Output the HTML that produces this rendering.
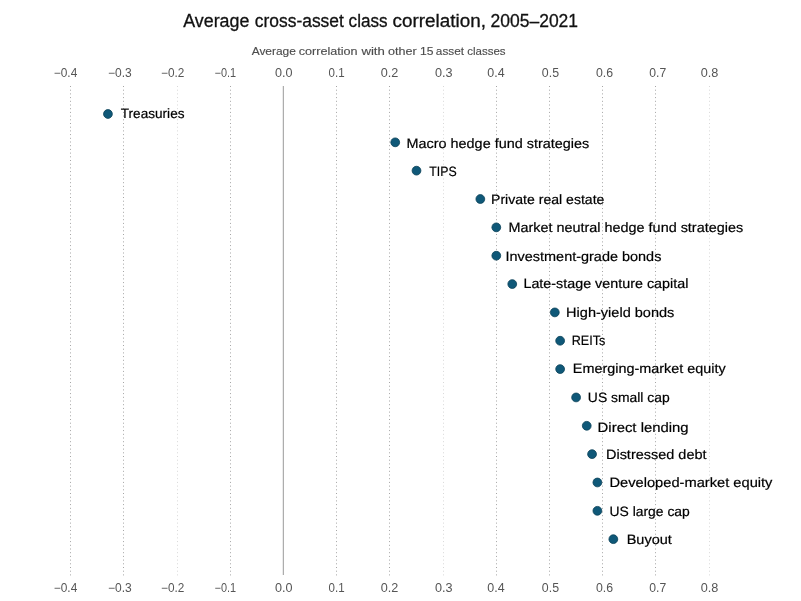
<!DOCTYPE html>
<html><head><meta charset="utf-8"><title>Average cross-asset class correlation, 2005–2021</title>
<style>
html,body{margin:0;padding:0;background:#fff;}
body{width:801px;height:601px;overflow:hidden;}
svg{display:block;will-change:transform;}
text{font-family:"Liberation Sans",Arial,sans-serif;}
.l{text-rendering:geometricPrecision;}
.t{font-size:18px;fill:#111;stroke:#111;stroke-width:0.3px;}
.s{font-size:11.6px;fill:#4d4d4d;stroke:#4d4d4d;stroke-width:0.15px;}
.k{font-size:12px;fill:#555;}
.l{font-size:13.5px;fill:#000;stroke:#000;stroke-width:0.2px;}
</style></head><body>
<svg width="801" height="601" viewBox="0 0 801 601">

<text class="t" x="183.26" y="26.7" textLength="66.14" lengthAdjust="spacingAndGlyphs">Average</text>
<text class="t" x="254.79" y="26.7" textLength="89.08" lengthAdjust="spacingAndGlyphs">cross-asset</text>
<text class="t" x="348.62" y="26.7" textLength="38.98" lengthAdjust="spacingAndGlyphs">class</text>
<text class="t" x="392.61" y="26.7" textLength="93.33" lengthAdjust="spacingAndGlyphs">correlation,</text>
<text class="t" x="490.53" y="26.7" textLength="87.58" lengthAdjust="spacingAndGlyphs">2005–2021</text>
<text class="s" x="251.65" y="54.8" textLength="44.25" lengthAdjust="spacingAndGlyphs">Average</text>
<text class="s" x="298.82" y="54.8" textLength="58.83" lengthAdjust="spacingAndGlyphs">correlation</text>
<text class="s" x="361.44" y="54.8" textLength="23.43" lengthAdjust="spacingAndGlyphs">with</text>
<text class="s" x="388.01" y="54.8" textLength="28.66" lengthAdjust="spacingAndGlyphs">other</text>
<text class="s" x="420.00" y="54.8" textLength="13.46" lengthAdjust="spacingAndGlyphs">15</text>
<text class="s" x="435.86" y="54.8" textLength="28.18" lengthAdjust="spacingAndGlyphs">asset</text>
<text class="s" x="467.22" y="54.8" textLength="38.37" lengthAdjust="spacingAndGlyphs">classes</text>
<line x1="70.5" y1="86" x2="70.5" y2="576" stroke="#a5a5a5" stroke-width="1" stroke-dasharray="1 2.7"/>
<line x1="123.5" y1="86" x2="123.5" y2="576" stroke="#a5a5a5" stroke-width="1" stroke-dasharray="1 2.7"/>
<line x1="177.5" y1="86" x2="177.5" y2="576" stroke="#d8d8d8" stroke-width="1" stroke-dasharray="1 2.7"/>
<line x1="230.5" y1="86" x2="230.5" y2="576" stroke="#a5a5a5" stroke-width="1" stroke-dasharray="1 2.7"/>
<rect x="282.8" y="86" width="1" height="489" fill="#999"/>
<line x1="336.5" y1="86" x2="336.5" y2="576" stroke="#a5a5a5" stroke-width="1" stroke-dasharray="1 2.7"/>
<line x1="389.5" y1="86" x2="389.5" y2="576" stroke="#a5a5a5" stroke-width="1" stroke-dasharray="1 2.7"/>
<line x1="443.5" y1="86" x2="443.5" y2="576" stroke="#d8d8d8" stroke-width="1" stroke-dasharray="1 2.7"/>
<line x1="496.5" y1="86" x2="496.5" y2="576" stroke="#a5a5a5" stroke-width="1" stroke-dasharray="1 2.7"/>
<line x1="549.5" y1="86" x2="549.5" y2="576" stroke="#a5a5a5" stroke-width="1" stroke-dasharray="1 2.7"/>
<line x1="602.5" y1="86" x2="602.5" y2="576" stroke="#a5a5a5" stroke-width="1" stroke-dasharray="1 2.7"/>
<line x1="655.5" y1="86" x2="655.5" y2="576" stroke="#a5a5a5" stroke-width="1" stroke-dasharray="1 2.7"/>
<line x1="709.5" y1="86" x2="709.5" y2="576" stroke="#d8d8d8" stroke-width="1" stroke-dasharray="1 2.7"/>
<text class="k" x="53.85" y="76.8" textLength="23.44" lengthAdjust="spacingAndGlyphs">−0.4</text>
<text class="k" x="53.85" y="591.8" textLength="23.44" lengthAdjust="spacingAndGlyphs">−0.4</text>
<text class="k" x="108.05" y="76.8" textLength="23.7" lengthAdjust="spacingAndGlyphs">−0.3</text>
<text class="k" x="108.05" y="591.8" textLength="23.7" lengthAdjust="spacingAndGlyphs">−0.3</text>
<text class="k" x="161.07" y="76.8" textLength="23.27" lengthAdjust="spacingAndGlyphs">−0.2</text>
<text class="k" x="161.07" y="591.8" textLength="23.27" lengthAdjust="spacingAndGlyphs">−0.2</text>
<text class="k" x="214.54" y="76.8" textLength="21.51" lengthAdjust="spacingAndGlyphs">−0.1</text>
<text class="k" x="214.54" y="591.8" textLength="21.51" lengthAdjust="spacingAndGlyphs">−0.1</text>
<text class="k" x="275.04" y="76.8" textLength="17.54" lengthAdjust="spacingAndGlyphs">0.0</text>
<text class="k" x="275.04" y="591.8" textLength="17.54" lengthAdjust="spacingAndGlyphs">0.0</text>
<text class="k" x="328.57" y="76.8" textLength="16.04" lengthAdjust="spacingAndGlyphs">0.1</text>
<text class="k" x="328.57" y="591.8" textLength="16.04" lengthAdjust="spacingAndGlyphs">0.1</text>
<text class="k" x="380.7" y="76.8" textLength="17.56" lengthAdjust="spacingAndGlyphs">0.2</text>
<text class="k" x="380.7" y="591.8" textLength="17.56" lengthAdjust="spacingAndGlyphs">0.2</text>
<text class="k" x="435.03" y="76.8" textLength="17.6" lengthAdjust="spacingAndGlyphs">0.3</text>
<text class="k" x="435.03" y="591.8" textLength="17.6" lengthAdjust="spacingAndGlyphs">0.3</text>
<text class="k" x="487.28" y="76.8" textLength="17.33" lengthAdjust="spacingAndGlyphs">0.4</text>
<text class="k" x="487.28" y="591.8" textLength="17.33" lengthAdjust="spacingAndGlyphs">0.4</text>
<text class="k" x="541.85" y="76.8" textLength="17.17" lengthAdjust="spacingAndGlyphs">0.5</text>
<text class="k" x="541.85" y="591.8" textLength="17.17" lengthAdjust="spacingAndGlyphs">0.5</text>
<text class="k" x="595.92" y="76.8" textLength="17.12" lengthAdjust="spacingAndGlyphs">0.6</text>
<text class="k" x="595.92" y="591.8" textLength="17.12" lengthAdjust="spacingAndGlyphs">0.6</text>
<text class="k" x="649.31" y="76.8" textLength="16.92" lengthAdjust="spacingAndGlyphs">0.7</text>
<text class="k" x="649.31" y="591.8" textLength="16.92" lengthAdjust="spacingAndGlyphs">0.7</text>
<text class="k" x="700.7" y="76.8" textLength="17.62" lengthAdjust="spacingAndGlyphs">0.8</text>
<text class="k" x="700.7" y="591.8" textLength="17.62" lengthAdjust="spacingAndGlyphs">0.8</text>
<circle cx="107.94" cy="113.98" r="4.4" fill="#0f5878" stroke="#0b4158" stroke-width="0.8"/>
<text class="l" x="120.81" y="117.80" textLength="63.71" lengthAdjust="spacingAndGlyphs">Treasuries</text>
<circle cx="395.22" cy="142.33" r="4.4" fill="#0f5878" stroke="#0b4158" stroke-width="0.8"/>
<text class="l" x="406.53" y="147.90" textLength="182.72" lengthAdjust="spacingAndGlyphs">Macro hedge fund strategies</text>
<circle cx="416.50" cy="170.67" r="4.4" fill="#0f5878" stroke="#0b4158" stroke-width="0.8"/>
<text class="l" x="429.25" y="175.90" textLength="27.36" lengthAdjust="spacingAndGlyphs">TIPS</text>
<circle cx="480.34" cy="199.02" r="4.4" fill="#0f5878" stroke="#0b4158" stroke-width="0.8"/>
<text class="l" x="491.04" y="203.90" textLength="113.41" lengthAdjust="spacingAndGlyphs">Private real estate</text>
<circle cx="496.30" cy="227.36" r="4.4" fill="#0f5878" stroke="#0b4158" stroke-width="0.8"/>
<text class="l" x="508.41" y="231.80" textLength="234.75" lengthAdjust="spacingAndGlyphs">Market neutral hedge fund strategies</text>
<circle cx="496.30" cy="255.71" r="4.4" fill="#0f5878" stroke="#0b4158" stroke-width="0.8"/>
<text class="l" x="505.50" y="260.90" textLength="155.87" lengthAdjust="spacingAndGlyphs">Investment-grade bonds</text>
<circle cx="512.26" cy="284.05" r="4.4" fill="#0f5878" stroke="#0b4158" stroke-width="0.8"/>
<text class="l" x="523.41" y="287.80" textLength="164.95" lengthAdjust="spacingAndGlyphs">Late-stage venture capital</text>
<circle cx="554.82" cy="312.40" r="4.4" fill="#0f5878" stroke="#0b4158" stroke-width="0.8"/>
<text class="l" x="566.11" y="316.90" textLength="108.26" lengthAdjust="spacingAndGlyphs">High-yield bonds</text>
<circle cx="560.14" cy="340.74" r="4.4" fill="#0f5878" stroke="#0b4158" stroke-width="0.8"/>
<text class="l" x="571.64" y="344.90" textLength="33.62" lengthAdjust="spacingAndGlyphs">REITs</text>
<circle cx="560.14" cy="369.09" r="4.4" fill="#0f5878" stroke="#0b4158" stroke-width="0.8"/>
<text class="l" x="572.84" y="372.90" textLength="152.86" lengthAdjust="spacingAndGlyphs">Emerging-market equity</text>
<circle cx="576.10" cy="397.44" r="4.4" fill="#0f5878" stroke="#0b4158" stroke-width="0.8"/>
<text class="l" x="587.88" y="401.90" textLength="81.8" lengthAdjust="spacingAndGlyphs">US small cap</text>
<circle cx="586.74" cy="425.78" r="4.4" fill="#0f5878" stroke="#0b4158" stroke-width="0.8"/>
<text class="l" x="597.64" y="431.90" textLength="91.02" lengthAdjust="spacingAndGlyphs">Direct lending</text>
<circle cx="592.06" cy="454.13" r="4.4" fill="#0f5878" stroke="#0b4158" stroke-width="0.8"/>
<text class="l" x="605.97" y="458.90" textLength="100.54" lengthAdjust="spacingAndGlyphs">Distressed debt</text>
<circle cx="597.38" cy="482.47" r="4.4" fill="#0f5878" stroke="#0b4158" stroke-width="0.8"/>
<text class="l" x="609.46" y="486.90" textLength="163.0" lengthAdjust="spacingAndGlyphs">Developed-market equity</text>
<circle cx="597.38" cy="510.82" r="4.4" fill="#0f5878" stroke="#0b4158" stroke-width="0.8"/>
<text class="l" x="609.54" y="515.80" textLength="80.27" lengthAdjust="spacingAndGlyphs">US large cap</text>
<circle cx="613.34" cy="539.16" r="4.4" fill="#0f5878" stroke="#0b4158" stroke-width="0.8"/>
<text class="l" x="626.69" y="543.90" textLength="45.11" lengthAdjust="spacingAndGlyphs">Buyout</text>
</svg>
</body></html>
